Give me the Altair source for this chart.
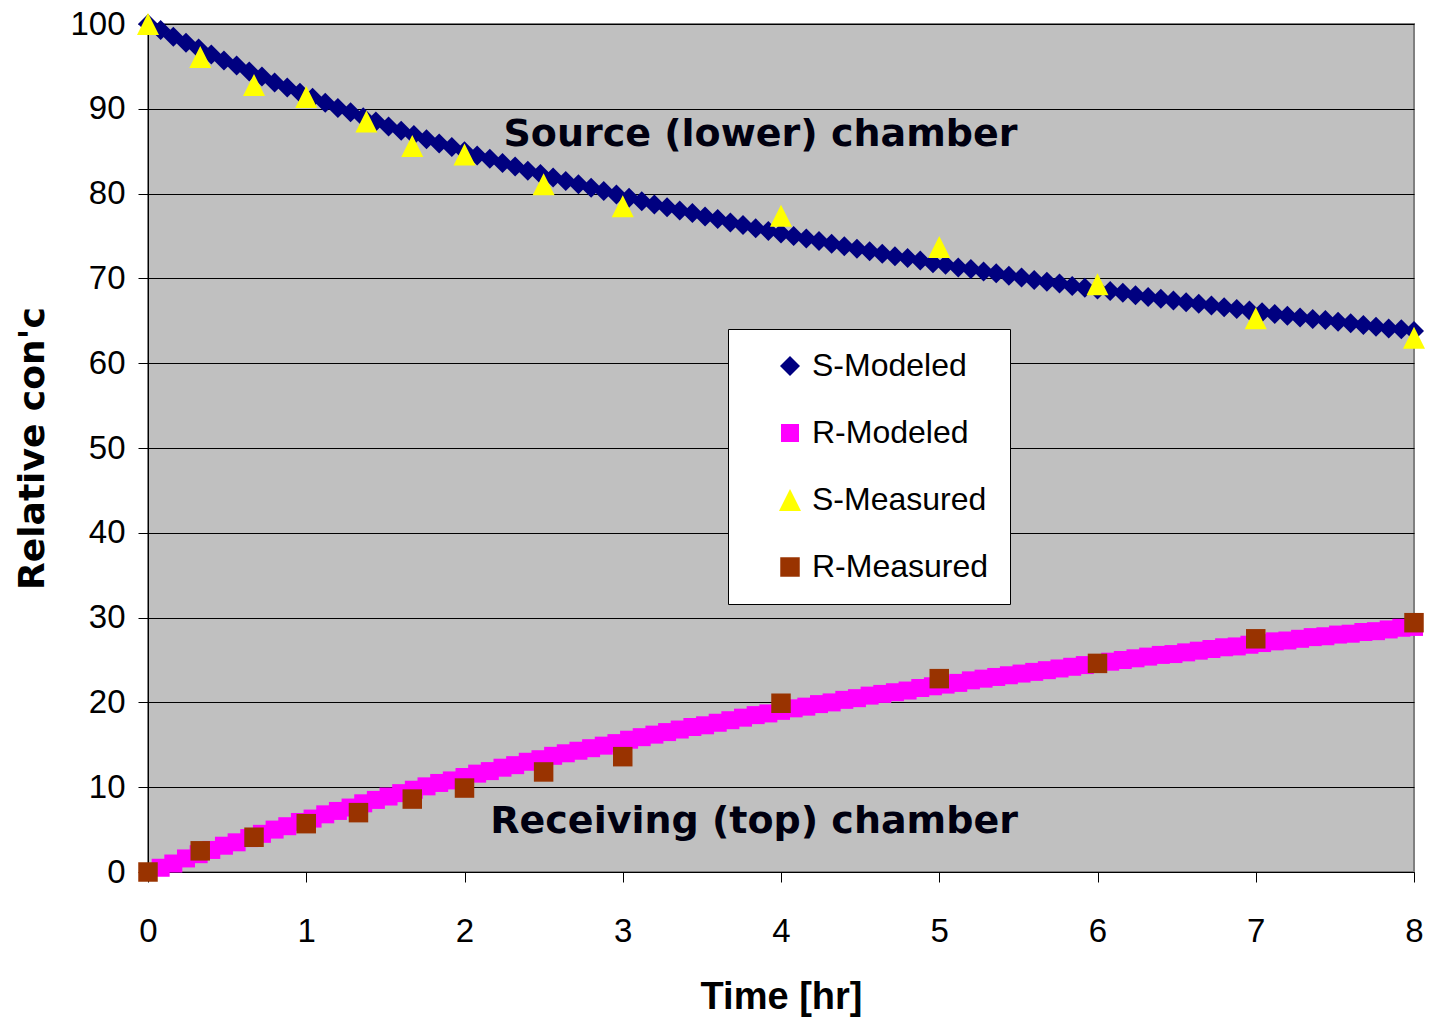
import altair as alt
import pandas as pd

# Model output, sampled every 0.08 hr
model_time = [
    0.0, 0.08, 0.16, 0.24, 0.32, 0.4, 0.48, 0.56, 0.64, 0.72, 0.8, 0.88, 0.96,
    1.04, 1.12, 1.2, 1.28, 1.36, 1.44, 1.52, 1.6, 1.68, 1.76, 1.84, 1.92,
    2.0, 2.08, 2.16, 2.24, 2.32, 2.4, 2.48, 2.56, 2.64, 2.72, 2.8, 2.88, 2.96,
    3.04, 3.12, 3.2, 3.28, 3.36, 3.44, 3.52, 3.6, 3.68, 3.76, 3.84, 3.92,
    4.0, 4.08, 4.16, 4.24, 4.32, 4.4, 4.48, 4.56, 4.64, 4.72, 4.8, 4.88, 4.96,
    5.04, 5.12, 5.2, 5.28, 5.36, 5.44, 5.52, 5.6, 5.68, 5.76, 5.84, 5.92,
    6.0, 6.08, 6.16, 6.24, 6.32, 6.4, 6.48, 6.56, 6.64, 6.72, 6.8, 6.88, 6.96,
    7.04, 7.12, 7.2, 7.28, 7.36, 7.44, 7.52, 7.6, 7.68, 7.76, 7.84, 7.92,
    8.0,
]
s_modeled = [
    100.0, 99.3, 98.5, 97.8, 97.1, 96.4, 95.7, 95.1, 94.4, 93.8, 93.1, 92.5, 91.9,
    91.3, 90.7, 90.1, 89.6, 89.0, 88.5, 87.9, 87.4, 86.9, 86.4, 85.9, 85.5,
    85.0, 84.5, 84.1, 83.6, 83.2, 82.7, 82.3, 81.9, 81.5, 81.1, 80.7, 80.3, 79.9,
    79.5, 79.1, 78.7, 78.4, 78.0, 77.7, 77.3, 77.0, 76.6, 76.3, 75.9, 75.6,
    75.3, 75.0, 74.7, 74.4, 74.1, 73.8, 73.5, 73.2, 72.9, 72.6, 72.4, 72.1, 71.8,
    71.6, 71.3, 71.1, 70.8, 70.6, 70.3, 70.1, 69.8, 69.6, 69.4, 69.1, 68.9,
    68.7, 68.5, 68.3, 68.0, 67.8, 67.6, 67.4, 67.2, 67.0, 66.8, 66.6, 66.4, 66.2,
    66.0, 65.8, 65.6, 65.4, 65.2, 65.1, 64.9, 64.7, 64.5, 64.3, 64.1, 64.0,
    63.8,
]
r_modeled = [
    0.0, 0.5, 1.0, 1.6, 2.1, 2.6, 3.1, 3.5, 4.0, 4.5, 5.0, 5.4, 5.9,
    6.3, 6.8, 7.2, 7.6, 8.1, 8.5, 8.9, 9.3, 9.7, 10.1, 10.5, 10.8,
    11.2, 11.6, 11.9, 12.3, 12.6, 13.0, 13.3, 13.7, 14.0, 14.3, 14.6, 14.9, 15.2,
    15.6, 15.9, 16.2, 16.5, 16.8, 17.1, 17.3, 17.6, 17.9, 18.2, 18.5, 18.7,
    19.0, 19.3, 19.5, 19.8, 20.0, 20.3, 20.5, 20.8, 21.0, 21.2, 21.4, 21.7, 21.9,
    22.1, 22.3, 22.6, 22.8, 23.0, 23.2, 23.4, 23.6, 23.8, 24.0, 24.2, 24.4,
    24.6, 24.8, 25.0, 25.2, 25.4, 25.6, 25.7, 25.9, 26.1, 26.3, 26.5, 26.6, 26.8,
    27.0, 27.2, 27.3, 27.5, 27.7, 27.8, 28.0, 28.1, 28.3, 28.4, 28.6, 28.8,
    28.9,
]

# Sampled concentrations
s_meas_time = [0, 0.33, 0.67, 1, 1.38, 1.67, 2, 2.5, 3, 4, 5, 6, 7, 8]
s_measured = [100.0, 96.1, 92.8, 91.4, 88.5, 85.6, 84.6, 81.1, 78.5, 77.4, 73.7, 69.3, 65.3, 63.0]
r_meas_time = [0, 0.33, 0.67, 1, 1.33, 1.67, 2, 2.5, 3, 4, 5, 6, 7, 8]
r_measured = [0.0, 2.5, 4.1, 5.7, 7.0, 8.6, 9.9, 11.8, 13.6, 19.9, 22.8, 24.6, 27.5, 29.4]

series_names = ["S-Modeled", "R-Modeled", "S-Measured", "R-Measured"]
series_colors = ["#000080", "#FF00FF", "#FFFF00", "#993300"]
series_shapes = ["M-1,0L0,-1L1,0L0,1Z", "square", "M-1,1L1,1L0,-1Z", "square"]
series_sizes = [400, 324, 484, 380]

# Chamber labels
note_text = ["Source (lower) chamber", "Receiving (top) chamber"]
note_time = [3.87, 3.83]
note_conc = [85.6, 4.6]

frames = []
for name, t, v in [
    ("S-Modeled", model_time, s_modeled),
    ("R-Modeled", model_time, r_modeled),
    ("S-Measured", s_meas_time, s_measured),
    ("R-Measured", r_meas_time, r_measured),
]:
    frames.append(pd.DataFrame({"time": t, "conc": v, "series": name}))
points_df = pd.concat(frames, ignore_index=True)
points_df["order"] = range(len(points_df))

notes_df = pd.DataFrame({"time": note_time, "conc": note_conc, "label": note_text})

x_scale = alt.Scale(domain=[0, 8], nice=False, zero=False)
y_scale = alt.Scale(domain=[0, 100], nice=False)

legend = alt.Legend(
    orient="none", legendX=580, legendY=305, title=None,
    fillColor="white", strokeColor="black", padding=21,
    labelFont="Liberation Sans", labelFontSize=32, labelColor="black",
    labelLimit=400, rowPadding=35, symbolOffset=25, labelOffset=6,
    symbolStrokeWidth=0,
)

x_axis = alt.Axis(
    values=list(range(9)), format="d", grid=False,
    domainColor="black", domainWidth=1, tickColor="black", tickSize=10,
    labelFont="Liberation Sans", labelFontSize=33, labelColor="black",
    labelPadding=49, labelBaseline="middle", labelFlush=False,
    title="Time [hr]", titleFont="Liberation Sans", titleFontSize=38,
    titleFontWeight="bold", titleColor="black", titleX=633, titleY=136,
    titleBaseline="alphabetic", titleAlign="center",
)
y_axis = alt.Axis(
    values=list(range(0, 101, 10)), grid=True, gridColor="black",
    gridOpacity=1, gridWidth=1,
    domainColor="black", domainWidth=1, tickColor="black", tickSize=10,
    labelFont="Liberation Sans", labelFontSize=33, labelColor="black",
    labelPadding=13, labelFlush=False,
    title="Relative con'c", titleFont="DejaVu Sans", titleFontSize=36,
    titleFontWeight="bold", titleColor="black", titleAngle=270,
    titleX=-116, titleY=424, titleAlign="center", titleBaseline="middle",
)

points = alt.Chart(points_df).mark_point(
    filled=True, opacity=1, strokeWidth=0
).encode(
    x=alt.X("time:Q", scale=x_scale, axis=x_axis),
    y=alt.Y("conc:Q", scale=y_scale, axis=y_axis),
    color=alt.Color("series:N", scale=alt.Scale(domain=series_names, range=series_colors), legend=legend),
    shape=alt.Shape("series:N", scale=alt.Scale(domain=series_names, range=series_shapes), legend=legend),
    size=alt.Size("series:N", scale=alt.Scale(type="ordinal", domain=series_names, range=series_sizes), legend=legend),
    order=alt.Order("order:Q"),
)

notes = alt.Chart(notes_df).mark_text(
    font="DejaVu Sans", fontSize=38, fontWeight="bold", color="#000010",
    align="center", baseline="alphabetic",
).encode(
    x=alt.X("time:Q", scale=x_scale),
    y=alt.Y("conc:Q", scale=y_scale),
    text="label:N",
)

chart = alt.layer(points, notes).properties(
    width=1266, height=848,
    padding={"left": 148, "top": 24, "right": 16, "bottom": 146},
    autosize=alt.AutoSizeParams(type="none"),
    background="white",
).configure_view(
    fill="#C0C0C0", stroke="#808080", strokeWidth=2,
)

chart.save("out.html", embed_options={"renderer": "svg", "actions": False})
